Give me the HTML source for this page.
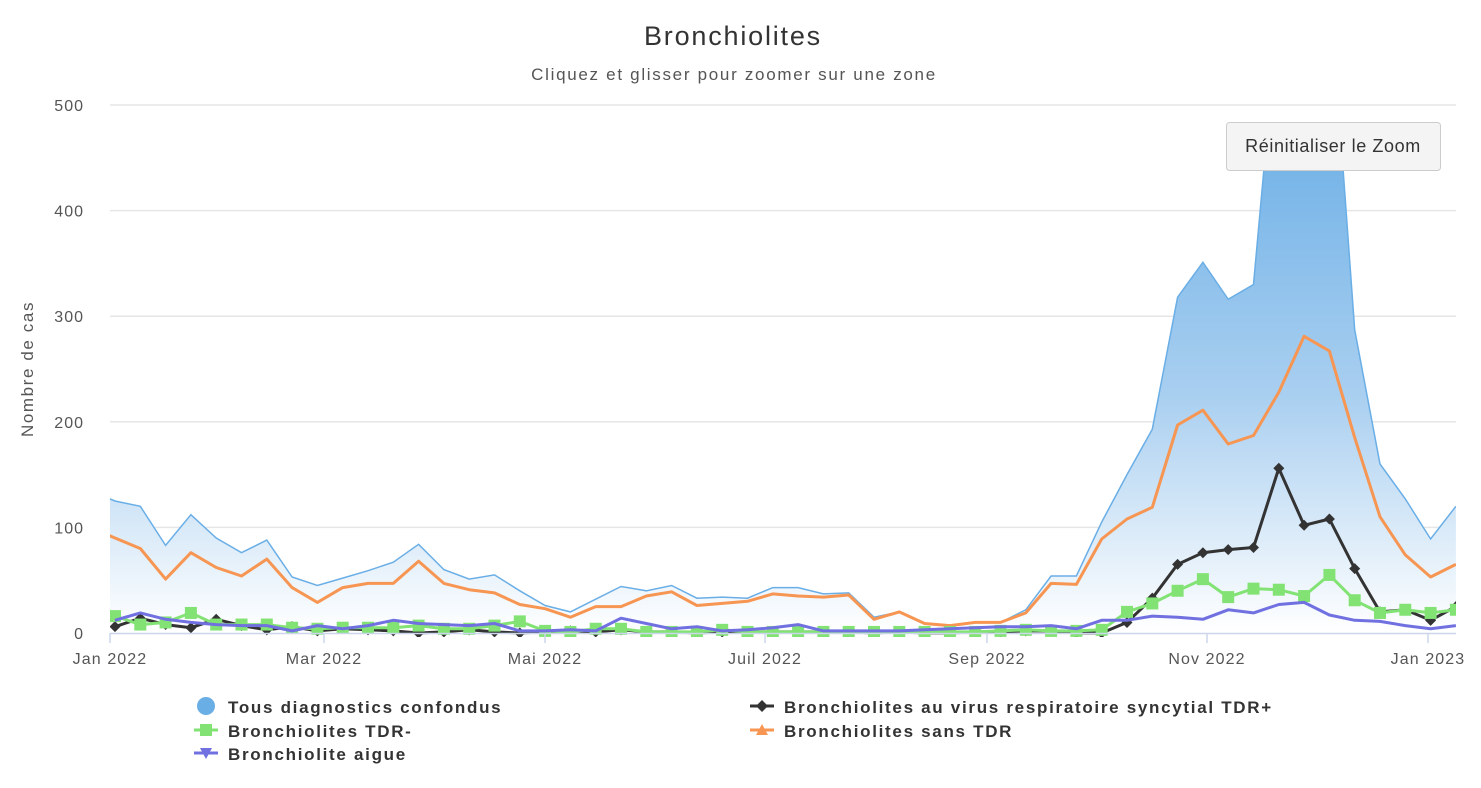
<!DOCTYPE html>
<html><head><meta charset="utf-8"><style>
body{margin:0;background:#fff;font-family:"Liberation Sans","DejaVu Sans",sans-serif;}
svg text{font-family:"Liberation Sans","DejaVu Sans",sans-serif;}
</style></head><body>
<svg id="c" width="1481" height="783" xmlns="http://www.w3.org/2000/svg">
<defs>
<linearGradient id="gr" gradientUnits="userSpaceOnUse" x1="0" y1="105" x2="0" y2="633">
<stop offset="0" stop-color="#6aaee6"/><stop offset="0.55" stop-color="#a9cff0"/><stop offset="1" stop-color="#ffffff"/>
</linearGradient>
<clipPath id="cp"><rect x="110" y="105" width="1346" height="532"/></clipPath>
<clipPath id="cp2"><rect x="110" y="160" width="1346" height="477"/></clipPath>
</defs>
<rect width="1481" height="783" fill="#fff"/>
<text x="733" y="45" font-size="27" fill="#333" text-anchor="middle" letter-spacing="1.8">Bronchiolites</text>
<text x="734" y="80" font-size="17" fill="#555" text-anchor="middle" letter-spacing="1.7">Cliquez et glisser pour zoomer sur une zone</text>
<g id="grid" stroke="#e6e6e6" stroke-width="1.5"></g>
<g id="ylab" font-size="16" fill="#555" text-anchor="end" letter-spacing="1"></g>
<text transform="translate(33,369) rotate(-90)" font-size="17" fill="#555" text-anchor="middle" letter-spacing="1.6">Nombre de cas</text>
<g id="series"></g>
<line x1="110" y1="633.5" x2="1456" y2="633.5" stroke="#ccd6eb" stroke-width="1.5"/>
<g id="xt" stroke="#ccd6eb" stroke-width="1.5"></g>
<g id="xl" font-size="16" fill="#555" text-anchor="middle" letter-spacing="1.1"></g>
<rect x="1226.5" y="122.5" width="214" height="48" rx="3" fill="#f4f4f4" stroke="#ccc"/>
<text x="1333" y="152" font-size="18" fill="#333" text-anchor="middle" letter-spacing="0.6">Réinitialiser le Zoom</text>
<g font-size="17" font-weight="bold" fill="#333" letter-spacing="1.7">
<circle cx="206" cy="706" r="9" fill="#6aaee6"/>
<text x="228" y="713">Tous diagnostics confondus</text>
<line x1="194" y1="730" x2="218" y2="730" stroke="#82e374" stroke-width="3"/><rect x="200" y="724" width="12" height="12" fill="#82e374"/>
<text x="228" y="737">Bronchiolites TDR-</text>
<line x1="194" y1="753" x2="218" y2="753" stroke="#7070e0" stroke-width="3"/><path d="M200 748 L212 748 L206 759 Z" fill="#7070e0"/>
<text x="228" y="760">Bronchiolite aigue</text>
<line x1="750" y1="706" x2="774" y2="706" stroke="#333" stroke-width="3"/><path d="M762 700 L768 706 L762 712 L756 706 Z" fill="#333"/>
<text x="784" y="713">Bronchiolites au virus respiratoire syncytial TDR+</text>
<line x1="750" y1="730" x2="774" y2="730" stroke="#f79552" stroke-width="3"/><path d="M762 724 L768 735 L756 735 Z" fill="#f79552"/>
<text x="784" y="737">Bronchiolites sans TDR</text>
</g>
</svg>
<script>
var Y=function(v){return 633-v*1.056;};
var X=function(i){return 115+25.3*i;};
var s=document.getElementById('series'),ns='http://www.w3.org/2000/svg';
function el(p,t,a){var e=document.createElementNS(ns,t);for(var k in a)e.setAttribute(k,a[k]);p.appendChild(e);return e;}
var g=document.getElementById('grid'),yl=document.getElementById('ylab');
for(var v=0;v<=500;v+=100){if(v>0)el(g,'line',{x1:110,x2:1456,y1:Y(v),y2:Y(v)});var t=el(yl,'text',{x:84,y:Y(v)+6});t.textContent=v;}
var xt=document.getElementById('xt'),xl=document.getElementById('xl');
[[110,'Jan 2022'],[324,'Mar 2022'],[545,'Mai 2022'],[765,'Juil 2022'],[987,'Sep 2022'],[1207,'Nov 2022'],[1428,'Jan 2023']].forEach(function(a){el(xt,'line',{x1:a[0],x2:a[0],y1:633,y2:643});var t=el(xl,'text',{x:a[0],y:664});t.textContent=a[1];});
var blue=[135,125,120,83,112,90,76,88,53,45,52,59,67,84,60,51,55,40,26,20,32,44,40,45,33,34,33,43,43,37,38,15,20,9,7,10,10,22,54,54,105,150,193,318,351,316,330,595,650,618,287,160,127,89,120];
var orange=[100,90,80,51,76,62,54,70,43,29,43,47,47,68,47,41,38,27,23,15,25,25,35,39,26,28,30,37,35,34,36,13,20,9,7,10,10,19,47,46,89,108,119,197,211,179,187,228,281,267,185,110,74,53,65];
var black=[null,6,14,8,5,13,7,3,6,2,4,3,2,0,1,3,1,0,1,2,1,3,1,1,0,1,1,1,1,1,1,0,1,0,0,1,1,2,2,0,0,10,33,65,76,79,81,156,102,108,61,20,22,12,25];
var green=[null,16,8,10,19,8,8,8,5,4,5,5,5,7,4,4,7,11,2,1,4,4,1,1,1,3,1,1,1,1,1,1,1,1,1,1,2,3,2,2,3,20,28,40,51,34,42,41,35,55,31,19,22,19,22];
var purple=[null,12,19,13,10,8,7,7,2,7,4,7,12,9,8,7,9,2,2,3,2,14,9,4,6,2,3,5,8,2,2,2,2,3,4,5,6,6,7,4,12,12,16,15,13,22,19,27,29,17,12,11,7,4,7];
function pts(a){var r=[];a.forEach(function(v,i){if(v!==null)r.push([X(i-1),Y(v)]);});return r;}
function d(p){return p.map(function(q,i){return (i?'L':'M')+q[0].toFixed(1)+' '+q[1].toFixed(1);}).join(' ');}
var bp=pts(blue);
var bg=el(s,'g',{'clip-path':'url(#cp2)'});
el(bg,'path',{d:d(bp)+' L'+bp[bp.length-1][0]+' 633 L'+bp[0][0]+' 633 Z',fill:'url(#gr)'});
el(bg,'path',{d:d(bp),fill:'none',stroke:'#6aaee6','stroke-width':1.5});
var og=el(s,'g',{'clip-path':'url(#cp)'});
el(og,'path',{d:d(pts(orange)),fill:'none',stroke:'#f79552','stroke-width':3,'stroke-linejoin':'round'});
var bk=pts(black);el(og,'path',{d:d(bk),fill:'none',stroke:'#333','stroke-width':3,'stroke-linejoin':'round'});
var gp=pts(green);el(og,'path',{d:d(gp),fill:'none',stroke:'#82e374','stroke-width':3,'stroke-linejoin':'round'});
bk.forEach(function(q){el(og,'path',{d:'M'+q[0]+' '+(q[1]-5.5)+' L'+(q[0]+5.5)+' '+q[1]+' L'+q[0]+' '+(q[1]+5.5)+' L'+(q[0]-5.5)+' '+q[1]+' Z',fill:'#333'});});
gp.forEach(function(q){el(og,'rect',{x:q[0]-6,y:q[1]-6,width:12,height:12,fill:'#82e374'});});
el(og,'path',{d:d(pts(purple)),fill:'none',stroke:'#7070e0','stroke-width':3,'stroke-linejoin':'round'});
</script>
</body></html>
